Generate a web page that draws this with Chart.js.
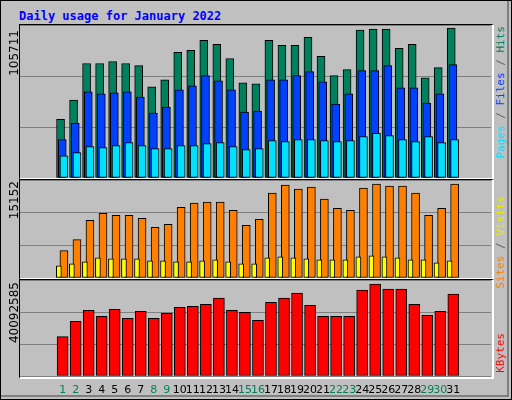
<!DOCTYPE html>
<html><head><meta charset="utf-8">
<script src="https://cdn.jsdelivr.net/npm/chart.js@4"></script>
<style>
body{margin:0;background:#fff;}
#frame{position:absolute;left:0;top:0;width:510px;height:398px;background:#C0C0C0;border:1px solid #000;}
#frame2{position:absolute;left:1px;top:1px;width:508px;height:396px;border-right:2px solid #808080;border-bottom:2px solid #808080;box-sizing:border-box;}
.panel{position:absolute;border:1px solid #000;border-right:2px solid #fff;border-bottom:2px solid #fff;box-sizing:border-box;}
canvas{position:absolute;}
.title{position:absolute;left:19px;top:9px;font:bold 12px "DejaVu Sans Mono",monospace;color:#0000FF;}
.vl{position:absolute;writing-mode:vertical-rl;transform:rotate(180deg);font:12px "DejaVu Sans",sans-serif;color:#000;}
.vr{position:absolute;writing-mode:vertical-rl;transform:rotate(180deg);font:11px "DejaVu Sans Mono",monospace;}
</style></head><body>
<div id="frame"></div><div id="frame2"></div>
<div class="title">Daily usage for January 2022</div>
<div class="panel" style="left:19px;top:24px;width:475px;height:156px"></div>
<div class="panel" style="left:19px;top:179px;width:475px;height:101px"></div>
<div class="panel" style="left:19px;top:279px;width:475px;height:100px"></div>
<canvas id="c1" style="left:20px;top:25px" width="471" height="153"></canvas>
<canvas id="c2" style="left:20px;top:180px" width="471" height="98"></canvas>
<canvas id="c3" style="left:20px;top:280px" width="471" height="120"></canvas>
<div class="vl" style="left:7px;top:30px">105711</div>
<div class="vl" style="left:7px;top:181px">15152</div>
<div class="vl" style="left:7px;top:282px">40092585</div>
<div class="vr" style="left:494px;top:26px"><span style="color:#00E0FF">Pages</span><span style="color:#606060"> / </span><span style="color:#0040FF">Files</span><span style="color:#606060"> / </span><span style="color:#00805C">Hits</span></div>
<div class="vr" style="left:494px;top:196px"><span style="color:#FF8000">Sites</span><span style="color:#606060"> / </span><span style="color:#E8E800">Visits</span></div>
<div class="vr" style="left:494px;top:333px;color:#FF0000">KBytes</div>
<script>
const days=[1,2,3,4,5,6,7,8,9,10,11,12,13,14,15,16,17,18,19,20,21,22,23,24,25,26,27,28,29,30,31];
const weekend=[1,2,8,9,15,16,22,23,29,30];
const hits=[41412,54978,80682,80682,82110,80682,79254,64260,69258,88536,89964,97104,94248,84252,67116,66402,97104,93534,93534,99246,85680,72114,76398,104244,104958,104958,91392,94248,70686,77826,105711];
const files=[27132,38556,60690,59262,59976,60690,57120,45696,49980,62118,64974,72114,68544,62118,46410,47124,69258,69258,72114,74970,67830,52122,59262,75684,75684,79254,63546,63546,52836,59262,79968];
const pages=[15708,17850,22134,21420,22848,24990,22848,20706,20706,22848,22848,24276,24990,22134,19992,20706,26418,25704,27132,27132,26418,25704,26418,29274,31416,29988,27132,25704,29274,24990,27132];
const visits=[4401,6194,9291,10432,10106,10106,9617,8150,8639,11410,12062,12225,12225,10921,8476,9454,13692,14996,14344,14670,12714,11247,10921,14507,15152,14833,14833,13692,10106,11247,15152];
const sites=[1956,2282,2608,3260,3097,3097,3097,2771,2771,2608,2608,2771,2934,2608,2282,2282,3260,3423,3260,3097,2934,2934,2934,3423,3586,3423,3260,2934,2934,2445,2771];
const kbytes=[17182542,23791212,28637570,25994102,29078148,25112946,28196992,25112946,27315836,29959304,30399882,31281038,33924506,28637570,27756414,24231790,32162194,33924506,36127396,30840460,25994102,25994102,25994102,37449130,40092585,37889708,37889708,31281038,26434680,28196992,35686818];
const maxHits=107850, maxVisits=15800, maxKB=41850000;

function ds(vals,off,color,w,order){
  return {data:vals.map((v,i)=>({x:days[i]+off,y:v})),backgroundColor:color,borderColor:'#000',borderWidth:1,
    barThickness:w,order:order,borderSkipped:false,grouped:false};
}
function opts(max,padBottom){
  return {responsive:false,animation:false,events:[],
    layout:{padding:{left:0,right:0,top:0,bottom:padBottom}},
    plugins:{legend:{display:false},tooltip:{enabled:false}},
    scales:{
      x:{type:'linear',min:0.5,max:31.5,display:false},
      y:{min:0,max:max,border:{display:false},ticks:{display:false,stepSize:max/3},
         grid:{color:'#808080',lineWidth:1,drawTicks:false,tickLength:0}}
    }};
}
Chart.defaults.font.family='DejaVu Sans';
new Chart(document.getElementById('c1'),{type:'bar',data:{datasets:[
  ds(hits,0.03,'#00805C',8,3),ds(files,0.16,'#0040FF',8,2),ds(pages,0.29,'#00E0FF',8,1)]},options:opts(maxHits,0)});
new Chart(document.getElementById('c2'),{type:'bar',data:{datasets:[
  ds(visits,0.29,'#FF8000',8,2),ds(sites,-0.1,'#FFFF00',5,1)]},options:opts(maxVisits,0)});
const dayLabels={id:'dayLabels',afterDraw(chart){
  const ctx=chart.ctx,xs=chart.scales.x;ctx.save();
  ctx.font='11px "DejaVu Sans"';ctx.textAlign='center';ctx.textBaseline='middle';
  days.forEach(d=>{ctx.fillStyle=weekend.includes(d)?'#00805C':'#000';
    ctx.fillText(String(d),xs.getPixelForValue(d+0.19),chart.chartArea.bottom+14);});
  ctx.restore();}};
new Chart(document.getElementById('c3'),{type:'bar',data:{datasets:[
  ds(kbytes,0.19,'#FF0000',11,1)]},options:opts(maxKB,24),plugins:[dayLabels]});
</script>
</body></html>
